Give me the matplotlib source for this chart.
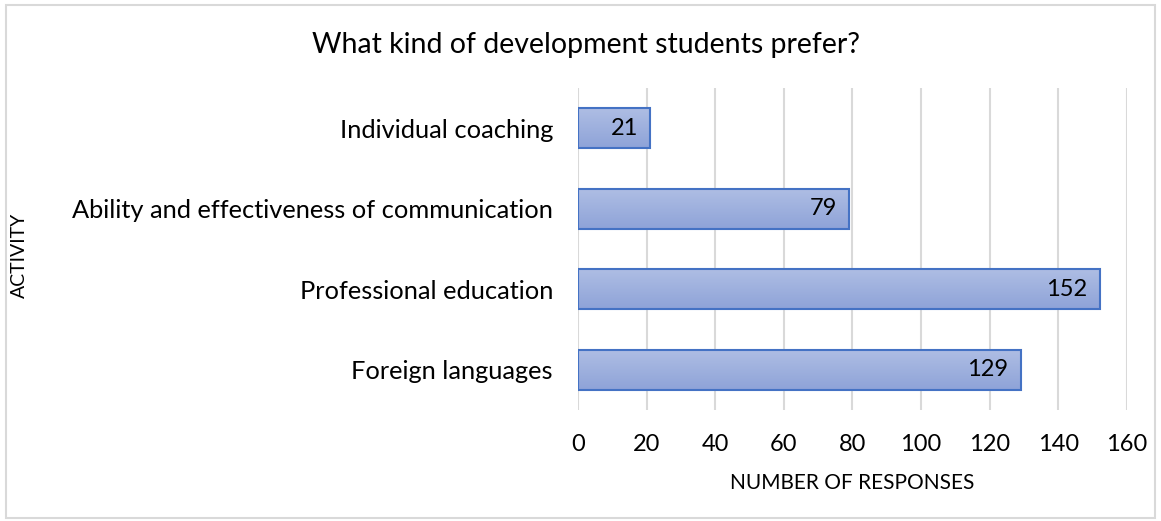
import numpy as np
import matplotlib.pyplot as plt
from matplotlib.patches import Rectangle
from matplotlib.colors import LinearSegmentedColormap

categories = ["Foreign languages", "Professional education",
              "Ability and effectiveness of communication", "Individual coaching"]
responses = [129, 152, 79, 21]
xticks = [0, 20, 40, 60, 80, 100, 120, 140, 160]

plt.rcParams['font.family'] = ['Lato', 'DejaVu Sans']

fig = plt.figure(figsize=(11.61, 5.21), dpi=100)
fig.patches.append(Rectangle((0.005, 0.005), 0.99, 0.985, transform=fig.transFigure,
                             fill=False, edgecolor='#d9d9d9', linewidth=1.5))
ax = fig.add_axes([0.4978, 0.2131, 0.4729, 0.618])

y = np.arange(len(categories))
bars = ax.barh(y, responses, height=0.5, color='none', edgecolor='#4472c4',
               linewidth=1.5, zorder=3)

# vertical gradient inside each bar, lighter on top
grad = np.linspace(0, 1, 256).reshape(-1, 1)
cmap = LinearSegmentedColormap.from_list('bar', ['#8ea3d8', '#afbee4'])
for b in bars:
    x0, y0 = b.get_x(), b.get_y()
    w, h = b.get_width(), b.get_height()
    im = ax.imshow(grad, cmap=cmap, aspect='auto', extent=[x0, x0 + w, y0, y0 + h],
                   origin='lower', zorder=2)
    im.set_clip_path(b)

for yi, v in zip(y, responses):
    ax.text(v - 3.5, yi, str(v), ha='right', va='center', fontsize=17, color='#000000', zorder=4)

ax.set_xlim(0, 160)
ax.set_ylim(-0.5, len(categories) - 0.5)
ax.set_xticks(xticks)
ax.set_xticklabels([str(t) for t in xticks], fontsize=17)
ax.set_yticks(y)
ax.set_yticklabels(categories, fontsize=18.3)
ax.tick_params(length=0)
ax.tick_params(axis='y', pad=18)
ax.tick_params(axis='x', pad=17)
ax.grid(axis='x', color='#d9d9d9', linewidth=1.5, zorder=0)
for s in ax.spines.values():
    s.set_visible(False)

ax.set_xlabel("NUMBER OF RESPONSES", fontsize=15, labelpad=13)
fig.text(0.017, 0.51, "ACTIVITY", rotation=90, ha='center', va='center', fontsize=14)
fig.text(0.505, 0.914, "What kind of development students prefer?", ha='center', va='center',
         fontsize=20.5, color='#000000')

fig.savefig("out.png", dpi=100)
